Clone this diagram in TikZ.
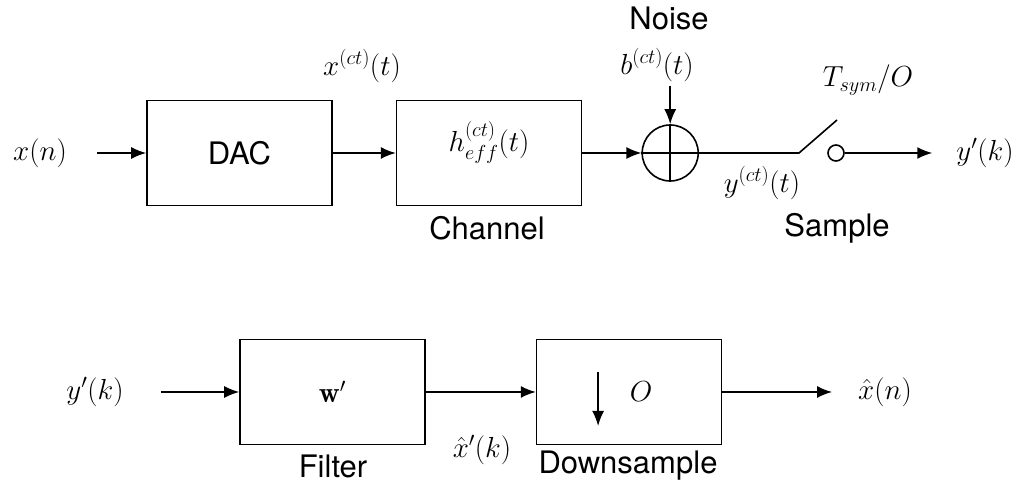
\RequirePackage{fix-cm}
\documentclass[tikz,border=0pt]{standalone}
\usepackage{amsmath}
\usepackage{fontspec}
\setsansfont{TeX Gyre Heros}
\usetikzlibrary{arrows.meta,positioning}

\begin{document}
\begin{tikzpicture}[x=1pt, y=1pt, >={Latex[length=15pt,width=12pt]}, line width=1.6pt,
    every node/.style={font=\fontsize{29}{35}\selectfont},
    block/.style={rectangle, draw, minimum width=185pt, minimum height=105pt},
    caption/.style={font=\fontsize{31}{37}\selectfont\sffamily}]
    \useasboundingbox (0,0) rectangle (1020,486);

    % top row: transmitter, channel, noise, sampler
    \node (xn) at (40,333) {$x(n)$};
    \node [block] (dac) at (239.5,333) {\fontsize{31}{37}\selectfont\sffamily DAC};
    \node [block, right=63pt of dac] (chan) {};
    \node (heff) at ([yshift=11pt]chan.center) {$h^{(ct)}_{eff}(t)$};
    \node [caption] (chanlbl) at (487,258) {Channel};
    \node (xct) at (362,420) {$x^{(ct)}(t)$};

    \node [circle, draw, minimum size=56pt, inner sep=0pt, right=59pt of chan] (sum) {};
    \draw (sum.north) -- (sum.south);
    \draw (sum.west) -- (sum.east);
    \node (bct) at (657,421) {$b^{(ct)}(t)$};
    \node [caption] (noise) at (669,468) {Noise};

    \coordinate [right=100pt of sum] (swa);
    \coordinate (swb) at (837,366);
    \node [circle, draw, minimum size=16pt, inner sep=0pt] (swc) at (836,333) {};
    \node (tsym) at (868,406) {$T_{sym}/O$};
    \node (yct) at (762,303) {$y^{(ct)}(t)$};
    \node [caption] (samplbl) at (837,258) {Sample};
    \node (yk) at (985,333) {$y'(k)$};

    \draw [->, shorten <=26pt] (xn) -- (dac);
    \draw [->] (dac) -- (chan);
    \draw [->] (chan) -- (sum);
    \draw [->] (sum.north |- bct.south) -- (sum.north);
    \draw (sum.east) -- (swa) -- (swb);
    \draw [->, shorten >=20pt] (swc.east) -- (yk);

    % bottom row: receiver
    \node (ykin) at (95,94) {$y'(k)$};
    \node [block] (filt) at (332.5,94) {$\mathbf{w}'$};
    \node [block, right=110pt of filt] (down) {};
    \coordinate (dtop) at ([xshift=-31pt,yshift=20pt]down.center);
    \coordinate (dbot) at ([xshift=-31pt,yshift=-34pt]down.center);
    \node (ofac) at ([xshift=12pt]down.center) {$O$};
    \node (xhat) at (885,94) {$\hat{x}(n)$};
    \node [caption] (filtlbl) at (333,20) {Filter};
    \node [caption] (downlbl) at (628,20) {Downsample};
    \node (xhk) at (482,36) {$\hat{x}'(k)$};

    \draw [->, shorten <=33pt] (ykin) -- (filt);
    \draw [->] (filt) -- (down);
    \draw [->] (dtop) -- (dbot);
    \draw [->, shorten >=22pt] (down) -- (xhat);
\end{tikzpicture}
\end{document}
